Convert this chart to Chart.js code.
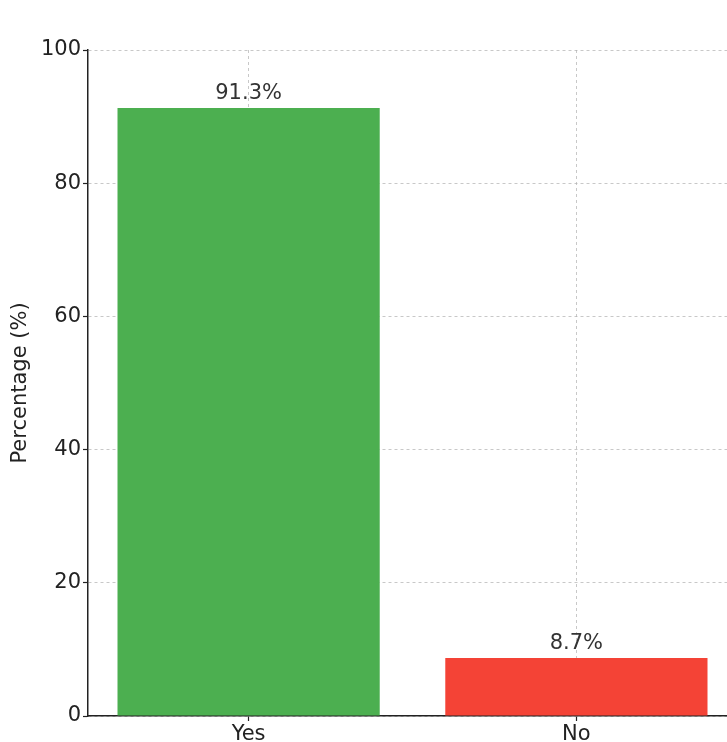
<!DOCTYPE html>
<html>
<head>
<meta charset="utf-8">
<script src="https://cdn.jsdelivr.net/npm/chart.js@4"></script>
<style>
  html, body { margin: 0; padding: 0; background: #fff; overflow: hidden; }
  #wrap { width: 727px; height: 742px; overflow: hidden; }
</style>
</head>
<body>
<div id="wrap"><canvas id="answers" width="737" height="742"></canvas></div>
<script>
const categories = ["Yes", "No"];
const percentages = [91.3, 8.7];
const barColors = ["#4caf50", "#f44336"];
const yTicks = [0, 20, 40, 60, 80, 100];

const FONT = "'DejaVu Sans', sans-serif";
const FONT_SIZE = 21;
const gridColor = "rgba(176,176,176,0.7)";

// value labels above each bar
const barLabels = {
  id: "barLabels",
  afterDatasetsDraw(chart) {
    const ctx = chart.ctx;
    const meta = chart.getDatasetMeta(0);
    ctx.save();
    ctx.font = FONT_SIZE + "px " + FONT;
    ctx.fillStyle = "#333";
    ctx.textAlign = "center";
    ctx.textBaseline = "alphabetic";
    meta.data.forEach((bar, i) => {
      ctx.fillText(percentages[i] + "%", bar.x, bar.y - 9);
    });
    ctx.restore();
  }
};

const gridOpts = {
  color: gridColor,
  lineWidth: 1,
  offset: false,
  tickLength: 5,
  tickColor: "#222",
  tickBorderDash: [],
  tickWidth: 1.2
};
const borderOpts = { display: true, color: "#222", width: 1.5, dash: [3, 3] };

new Chart(document.getElementById("answers"), {
  type: "bar",
  data: {
    datasets: [{
      data: percentages.map((v, i) => ({ x: i, y: v })),
      backgroundColor: barColors,
      borderWidth: 0,
      barPercentage: 0.8,
      categoryPercentage: 1.0
    }]
  },
  options: {
    responsive: false,
    animation: false,
    events: [],
    layout: { padding: { top: 50, left: 0, right: 0, bottom: 0 } },
    plugins: {
      legend: { display: false },
      tooltip: { enabled: false }
    },
    scales: {
      x: {
        type: "linear",
        min: -0.49,
        max: 1.49,
        offset: false,
        z: 1,
        afterBuildTicks: s => { s.ticks = categories.map((c, i) => ({ value: i })); },
        afterFit: s => { s.height = 26; },
        ticks: {
          callback: v => categories[v],
          font: { family: FONT, size: FONT_SIZE },
          color: "#222",
          padding: 1,
          maxRotation: 0
        },
        grid: gridOpts,
        border: borderOpts
      },
      y: {
        min: 0,
        max: 100,
        z: 1,
        afterBuildTicks: s => { s.ticks = yTicks.map(v => ({ value: v })); },
        afterFit: s => { s.width = 88; },
        ticks: {
          font: { family: FONT, size: FONT_SIZE },
          color: "#222",
          padding: 2
        },
        grid: gridOpts,
        border: borderOpts,
        title: {
          display: true,
          text: "Percentage (%)",
          font: { family: FONT, size: FONT_SIZE },
          color: "#222",
          padding: { top: 8, bottom: 0 }
        }
      }
    }
  },
  plugins: [barLabels]
});
</script>
</body>
</html>
